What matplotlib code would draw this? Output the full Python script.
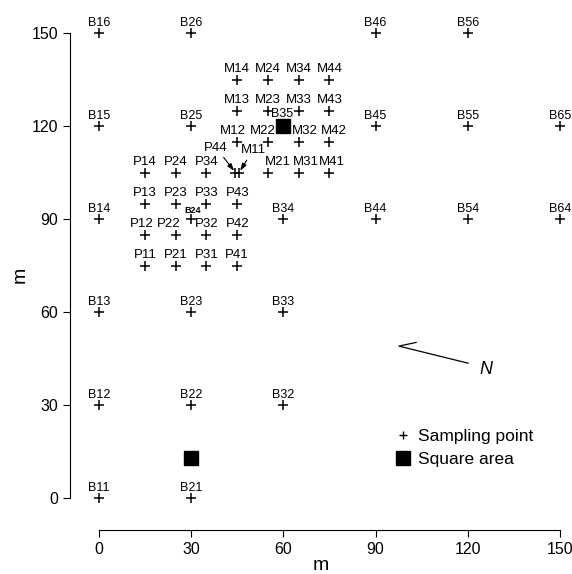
import matplotlib
matplotlib.use('Agg')
import matplotlib.pyplot as plt
from matplotlib.lines import Line2D

plt.rcParams['font.family'] = ['Liberation Sans', 'DejaVu Sans']

# background grid points (B)
b_names = ['B11', 'B12', 'B13', 'B14', 'B15', 'B16',
           'B21', 'B22', 'B23', 'B24', 'B25', 'B26',
           'B32', 'B33', 'B34', 'B35',
           'B44', 'B45', 'B46',
           'B54', 'B55', 'B56',
           'B64', 'B65']
b_x = [0, 0, 0, 0, 0, 0,
       30, 30, 30, 30, 30, 30,
       60, 60, 60, 60,
       90, 90, 90,
       120, 120, 120,
       150, 150]
b_y = [0, 30, 60, 90, 120, 150,
       0, 30, 60, 90, 120, 150,
       30, 60, 90, 120,
       90, 120, 150,
       90, 120, 150,
       90, 120]

# P grid
p_names = ['P11', 'P12', 'P13', 'P14',
           'P21', 'P22', 'P23', 'P24',
           'P31', 'P32', 'P33', 'P34',
           'P41', 'P42', 'P43', 'P44']
p_x = [15, 15, 15, 15, 25, 25, 25, 25, 35, 35, 35, 35, 45, 45, 45, 44.4]
p_y = [75, 85, 95, 105] * 4

# M grid
m_names = ['M11', 'M12', 'M13', 'M14',
           'M21', 'M22', 'M23', 'M24',
           'M31', 'M32', 'M33', 'M34',
           'M41', 'M42', 'M43', 'M44']
m_x = [45.6, 45, 45, 45, 55, 55, 55, 55, 65, 65, 65, 65, 75, 75, 75, 75]
m_y = [105, 115, 125, 135] * 4

# square areas
sq_x = [60, 30]
sq_y = [120, 13]

# sideways nudges for crowded labels (points)
nudge = {'M12': -3.5, 'M22': -3.5, 'M32': 4.5, 'M42': 3,
         'M21': 7, 'M31': 5, 'M41': 2, 'P22': -5, 'P12': -2}

fig = plt.figure(figsize=(5.72, 5.74), dpi=100)
ax = fig.add_axes([0.1224, 0.0767, 0.8776, 0.8885])

for xs, ys in [(b_x, b_y), (p_x, p_y), (m_x, m_y)]:
    ax.plot(xs, ys, '+', color='black', ms=6.5, mew=1.1, ls='none', clip_on=False)
ax.plot(sq_x, sq_y, 's', color='black', ms=10, ls='none')

for name, x, y in zip(b_names, b_x, b_y):
    if name == 'B24':
        ax.annotate(name, (x, y), xytext=(1, 3), textcoords='offset points',
                    ha='center', va='bottom', fontsize=6.5, fontweight='bold')
    elif name == 'B35':
        ax.annotate(name, (x, y), xytext=(-1, 4.5), textcoords='offset points',
                    ha='center', va='bottom', fontsize=9)
    else:
        ax.annotate(name, (x, y), xytext=(0, 3), textcoords='offset points',
                    ha='center', va='bottom', fontsize=9)

arrow = dict(arrowstyle='-|>,head_length=0.45,head_width=0.15',
             color='black', lw=0.8, shrinkA=1, shrinkB=1.5)
for name, x, y in zip(p_names + m_names, p_x + m_x, p_y + m_y):
    if name == 'P44':
        ax.annotate(name, (x, y), xytext=(-14, 18), textcoords='offset points',
                    ha='center', va='center', fontsize=9.5, arrowprops=arrow)
    elif name == 'M11':
        ax.annotate(name, (x, y), xytext=(10, 16), textcoords='offset points',
                    ha='center', va='center', fontsize=9.5, arrowprops=arrow)
    else:
        ax.annotate(name, (x, y), xytext=(nudge.get(name, 0), 3),
                    textcoords='offset points',
                    ha='center', va='bottom', fontsize=9.5)

# north arrow (half arrowhead)
n_tip = (97.6, 49.0)
n_barb = (103.2, 50.2)
n_tail = (120.1, 43.5)
ax.plot([n_tail[0], n_tip[0], n_barb[0]], [n_tail[1], n_tip[1], n_barb[1]],
        color='black', lw=0.9)
ax.text(125.8, 41.3, 'N', fontsize=13, style='italic', ha='center', va='center')

handles = [Line2D([], [], marker='+', color='black', ls='none', ms=5.5, mew=1.0),
           Line2D([], [], marker='s', color='black', ls='none', ms=10)]
ax.legend(handles, ['Sampling point', 'Square area'], loc='upper left',
          bbox_to_anchor=(0.652, 0.199), frameon=False, fontsize=12.5,
          handlelength=0.7, handletextpad=0.5, labelspacing=0.5,
          borderpad=0, borderaxespad=0)

ax.set_xlim(-9.4, 153.9)
ax.set_ylim(-10.3, 154.2)
ax.set_xticks([0, 30, 60, 90, 120, 150])
ax.set_yticks([0, 30, 60, 90, 120, 150])
ax.spines['top'].set_visible(False)
ax.spines['right'].set_visible(False)
ax.spines['left'].set_bounds(0, 150)
ax.spines['bottom'].set_bounds(0, 150)
ax.tick_params(direction='out', length=5, labelsize=11.5)
ax.set_xlabel('m', fontsize=14, labelpad=0)
ax.set_ylabel('m', fontsize=14, labelpad=2)

fig.savefig('out.png', dpi=100)
